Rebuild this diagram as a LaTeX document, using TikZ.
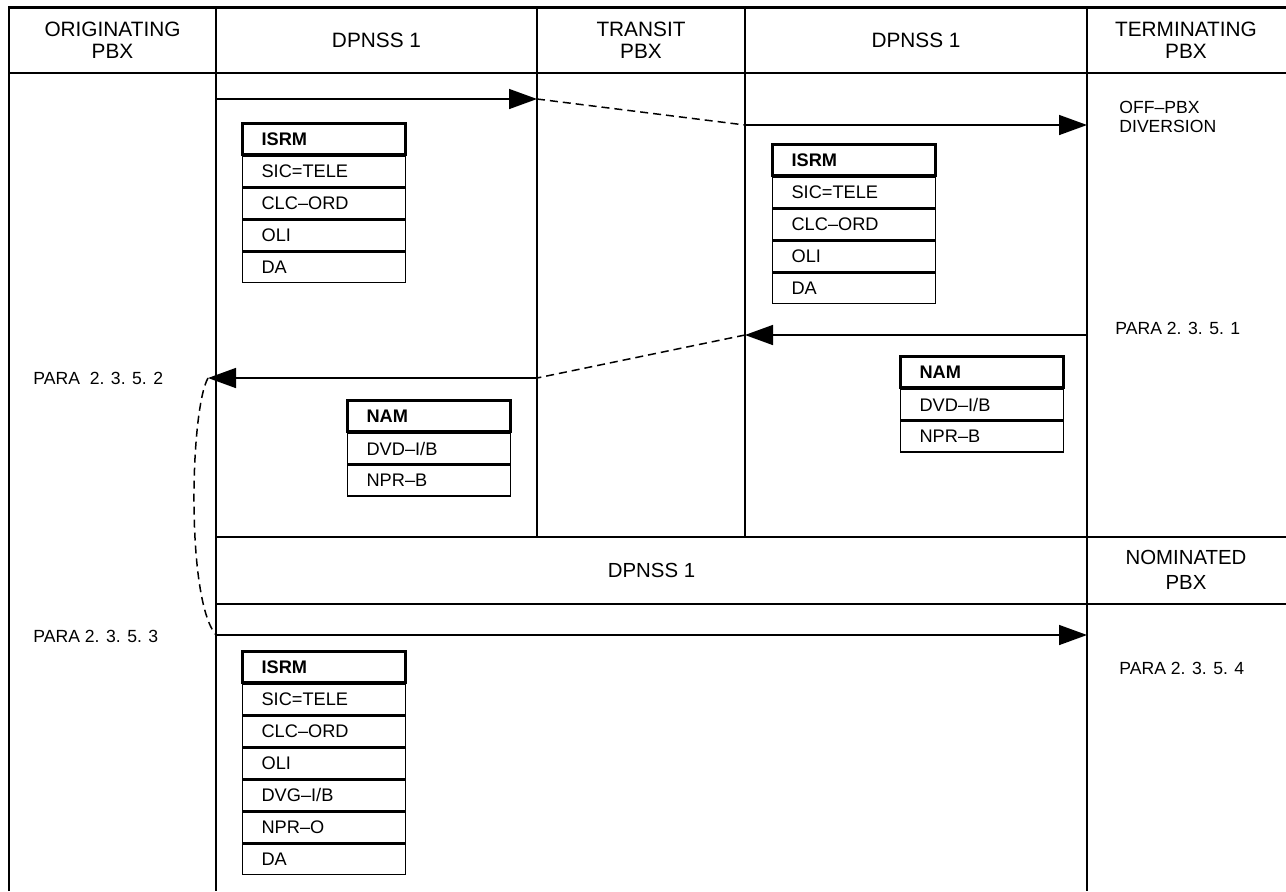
\documentclass[tikz,border=0pt]{standalone}
\usepackage{fontspec}
\setmainfont{Liberation Sans}
\usetikzlibrary{positioning, arrows.meta}

\begin{document}
\begin{tikzpicture}[
    x=0.5pt, y=-0.5pt,
    grid/.style={line width=1.1pt},
    hdr/.style={font=\fontsize{10.4}{11}\selectfont, align=center},
    bandhdr/.style={font=\fontsize{10.2}{12.8}\selectfont, align=center},
    lbl/.style={font=\fontsize{8.8}{9.6}\selectfont, align=left, anchor=west, inner sep=0pt},
    field/.style={draw, line width=0.7pt, font=\fontsize{9.1}{10}\selectfont, minimum width=81.5pt, text width=62.5pt, inner xsep=9.5pt, inner ysep=0pt, minimum height=15.25pt, align=left},
    headfield/.style={field, line width=1.6pt, font=\fontsize{9.1}{10}\selectfont\bfseries},
    arrow/.style={-{Triangle[length=14pt, width=10pt]}, line width=0.75pt},
    dashline/.style={dashed, dash pattern=on 4pt off 2.5pt, line width=0.75pt},
]
\useasboundingbox (0,0) rectangle (1286,891);

% table frame
\draw[grid] (9,891) -- (9,7.5) -- (1286,7.5);
\draw[grid] (9,73) -- (1286,73);
\draw[grid] (216,7.5) -- (216,891);
\draw[grid] (537,7.5) -- (537,537);
\draw[grid] (745,7.5) -- (745,537);
\draw[grid] (1087,7.5) -- (1087,891);
\draw[grid] (216,537) -- (1286,537);
\draw[grid] (216,604) -- (1286,604);

% headings
\node[hdr] (hOrig) at (112.5,40) {ORIGINATING\\PBX};
\node[hdr] (hLinkA) at (376.5,40) {DPNSS 1};
\node[hdr] (hTrans) at (641,40) {TRANSIT\\PBX};
\node[hdr] (hLinkB) at (916,40) {DPNSS 1};
\node[hdr] (hTerm) at (1186,40) {TERMINATING\\PBX};
\node[bandhdr] (hLinkC) at (651.5,570) {DPNSS 1};
\node[bandhdr] (hNom) at (1186,570) {NOMINATED\\PBX};

% side labels
\node[lbl, anchor=north west] (offPbx) at (1119,101) {OFF--PBX\\DIVERSION};
\node[lbl] (para1) at (1115,328) {PARA 2. 3. 5. 1};
\node[lbl] (para2) at (33,378) {PARA~ 2. 3. 5. 2};
\node[lbl] (para3) at (33,636) {PARA 2. 3. 5. 3};
\node[lbl] (para4) at (1119,668) {PARA 2. 3. 5. 4};

% message boxes
\node[headfield, anchor=north west] (isrmA) at (241,122) {ISRM};
\node[field, below=0pt of isrmA] (sicA) {SIC=TELE};
\node[field, below=0pt of sicA] (clcA) {CLC--ORD};
\node[field, below=0pt of clcA] (oliA) {OLI};
\node[field, below=0pt of oliA] (daA) {DA};

\node[headfield, anchor=north west] (isrmB) at (771,143) {ISRM};
\node[field, below=0pt of isrmB] (sicB) {SIC=TELE};
\node[field, below=0pt of sicB] (clcB) {CLC--ORD};
\node[field, below=0pt of clcB] (oliB) {OLI};
\node[field, below=0pt of oliB] (daB) {DA};

\node[headfield, anchor=north west] (namB) at (899,355) {NAM};
\node[field, below=0pt of namB] (dvdB) {DVD--I/B};
\node[field, below=0pt of dvdB] (nprB) {NPR--B};

\node[headfield, anchor=north west] (namA) at (346,399) {NAM};
\node[field, below=0pt of namA] (dvdA) {DVD--I/B};
\node[field, below=0pt of dvdA] (nprA) {NPR--B};

\node[headfield, anchor=north west] (isrmC) at (241,650) {ISRM};
\node[field, below=0pt of isrmC] (sicC) {SIC=TELE};
\node[field, below=0pt of sicC] (clcC) {CLC--ORD};
\node[field, below=0pt of clcC] (oliC) {OLI};
\node[field, below=0pt of oliC] (dvgC) {DVG--I/B};
\node[field, below=0pt of dvgC] (nproC) {NPR--O};
\node[field, below=0pt of nproC] (daC) {DA};

% signal points
\coordinate (outA) at (216,99);
\coordinate (inT) at (537,99);
\coordinate (outT) at (745,125);
\coordinate (inTerm) at (1087,125);
\coordinate (backTerm) at (1087,335);
\coordinate (backT) at (745,335);
\coordinate (backT2) at (537,378);
\coordinate (backOrig) at (208,378);
\coordinate (outNom) at (216,635);
\coordinate (inNom) at (1087,635);

\draw[arrow] (outA) -- (inT);
\draw[dashline] (inT) -- (outT);
\draw[arrow] (outT) -- (inTerm);
\draw[arrow] (backTerm) -- (backT);
\draw[dashline] (backT) -- (backT2);
\draw[arrow] (backT2) -- (backOrig);
\draw[dashline] (backOrig) .. controls (190,410) and (186,600) .. (outNom);
\draw[arrow] (outNom) -- (inNom);

\end{tikzpicture}
\end{document}
